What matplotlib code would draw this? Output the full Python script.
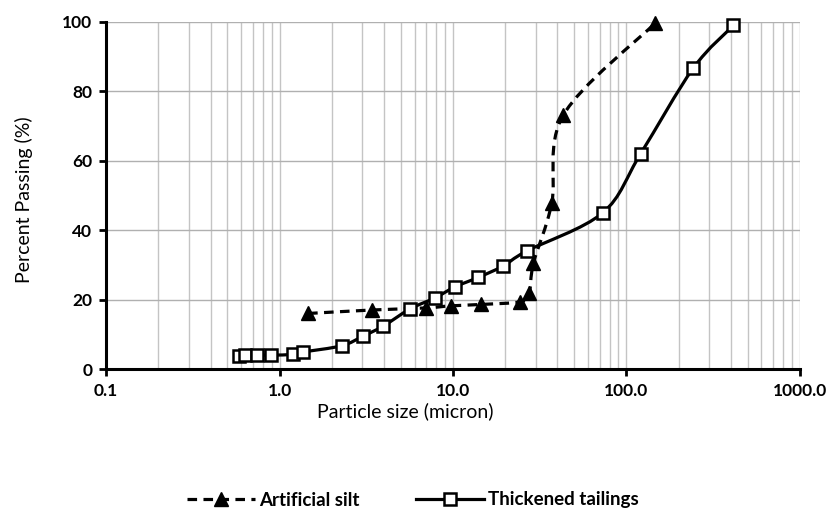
import numpy as np
import matplotlib
matplotlib.use("Agg")
import matplotlib.pyplot as plt
from matplotlib.path import Path
from matplotlib.patches import PathPatch
from matplotlib.lines import Line2D
from matplotlib.ticker import FixedLocator, LogLocator, NullFormatter

plt.rcParams['font.family'] = ['Lato', 'DejaVu Sans']

# Data
silt_x = [1.46, 3.4, 7.0, 9.7, 14.5, 24.5, 27.5, 29.1, 37.1, 43.3, 146]
silt_y = [16.0, 17.0, 17.6, 18.2, 18.6, 19.4, 21.8, 30.5, 47.8, 73.2, 99.6]

tail_x = [0.58, 0.63, 0.74, 0.89, 1.2, 1.37, 2.28, 3.04, 3.97, 5.65, 7.87,
          10.3, 14.0, 19.5, 26.6, 73, 121, 243, 414]
tail_y = [3.7, 3.9, 4.0, 4.0, 4.2, 4.9, 6.7, 9.5, 12.4, 17.3, 20.5,
          23.7, 26.4, 29.7, 34.0, 45.0, 62.1, 86.7, 99.0]

x_ticks = [0.1, 1, 10, 100, 1000]
x_ticklabels = ["0.1", "1.0", "10.0", "100.0", "1000.0"]
y_ticks = [0, 20, 40, 60, 80, 100]

labels = ["Artificial silt", "Thickened tailings"]


def smooth_path(xs, ys):
    """Excel-style smoothed line: cubic Bezier segments in (log10 x, y) space."""
    lx = np.log10(np.asarray(xs, float))
    yy = np.asarray(ys, float)
    P = np.column_stack([lx, yy])
    n = len(P)
    verts = [P[0]]
    codes = [Path.MOVETO]
    for i in range(n - 1):
        p0 = P[i - 1] if i > 0 else P[i]
        p1 = P[i]
        p2 = P[i + 1]
        p3 = P[i + 2] if i + 2 < n else P[i + 1]
        c1 = p1 + (p2 - p0) / 6.0
        c2 = p2 - (p3 - p1) / 6.0
        verts += [c1, c2, p2]
        codes += [Path.CURVE4] * 3
    verts = np.array(verts)
    verts[:, 0] = 10 ** verts[:, 0]
    return Path(verts, codes)


fig = plt.figure(figsize=(8.32, 5.16), dpi=100)
ax = fig.add_axes([106.2 / 832, 1 - 369 / 516, (799.8 - 106.2) / 832, (369 - 22) / 516])
ax.set_xscale('log')
ax.set_xlim(0.1, 1000)
ax.set_ylim(0, 100)

# grid
ax.xaxis.set_major_locator(FixedLocator(x_ticks))
ax.set_xticklabels(x_ticklabels)
ax.xaxis.set_minor_locator(LogLocator(base=10, subs=np.arange(2, 10)))
ax.xaxis.set_minor_formatter(NullFormatter())
ax.set_yticks(y_ticks)
ax.grid(True, which='both', axis='x', color='#c4c4c4', lw=1.0)
ax.grid(True, which='major', axis='y', color='#b0b0b0', lw=1.0)
ax.set_axisbelow(True)

for s in ['top', 'right']:
    ax.spines[s].set_visible(False)
for s in ['left', 'bottom']:
    ax.spines[s].set_linewidth(2.2)
    ax.spines[s].set_color('black')
ax.tick_params(axis='both', which='major', length=5, width=2, direction='out',
               labelsize=12.5, colors='black', pad=5)
ax.tick_params(axis='x', which='minor', length=0)
for lbl in ax.get_xticklabels() + ax.get_yticklabels():
    lbl.set_fontweight('bold')

# curves
silt_patch = PathPatch(smooth_path(silt_x, silt_y), facecolor='none', edgecolor='black',
                       lw=2.3, linestyle=(0, (3, 2)), zorder=3)
ax.add_patch(silt_patch)
tail_patch = PathPatch(smooth_path(tail_x, tail_y), facecolor='none', edgecolor='black',
                       lw=2.3, linestyle='-', zorder=3)
ax.add_patch(tail_patch)

ax.plot(silt_x, silt_y, linestyle='none', marker='^', ms=9.5, color='black', zorder=4,
        clip_on=False)
ax.plot(tail_x, tail_y, linestyle='none', marker='s', ms=8.5, mfc='white', mec='black',
        mew=1.8, zorder=5, clip_on=False)

ax.set_xlabel("Particle size (micron)", fontsize=14)
ax.set_ylabel("Percent Passing (%)", fontsize=14)
ax.xaxis.set_label_coords((405 - 106.2) / 693.6, (369 - 402) / 347)
ax.yaxis.set_label_coords((33 - 106.2) / 693.6, (369 - 200) / 347)

handles = [
    Line2D([], [], color='black', lw=2.3, linestyle=(0, (3, 2)), marker='^', ms=9.5),
    Line2D([], [], color='black', lw=2.3, linestyle='-', marker='s', ms=8.5,
           mfc='white', mec='black', mew=1.8),
]
leg = fig.legend(handles, labels, loc='center', bbox_to_anchor=(413 / 832, 1 - 500 / 516),
                 ncol=2, frameon=False, fontsize=13.5, handlelength=3.6, columnspacing=3.0,
                 handletextpad=0.25)
for t in leg.get_texts():
    t.set_fontweight('bold')

fig.savefig("out.png", dpi=100)
